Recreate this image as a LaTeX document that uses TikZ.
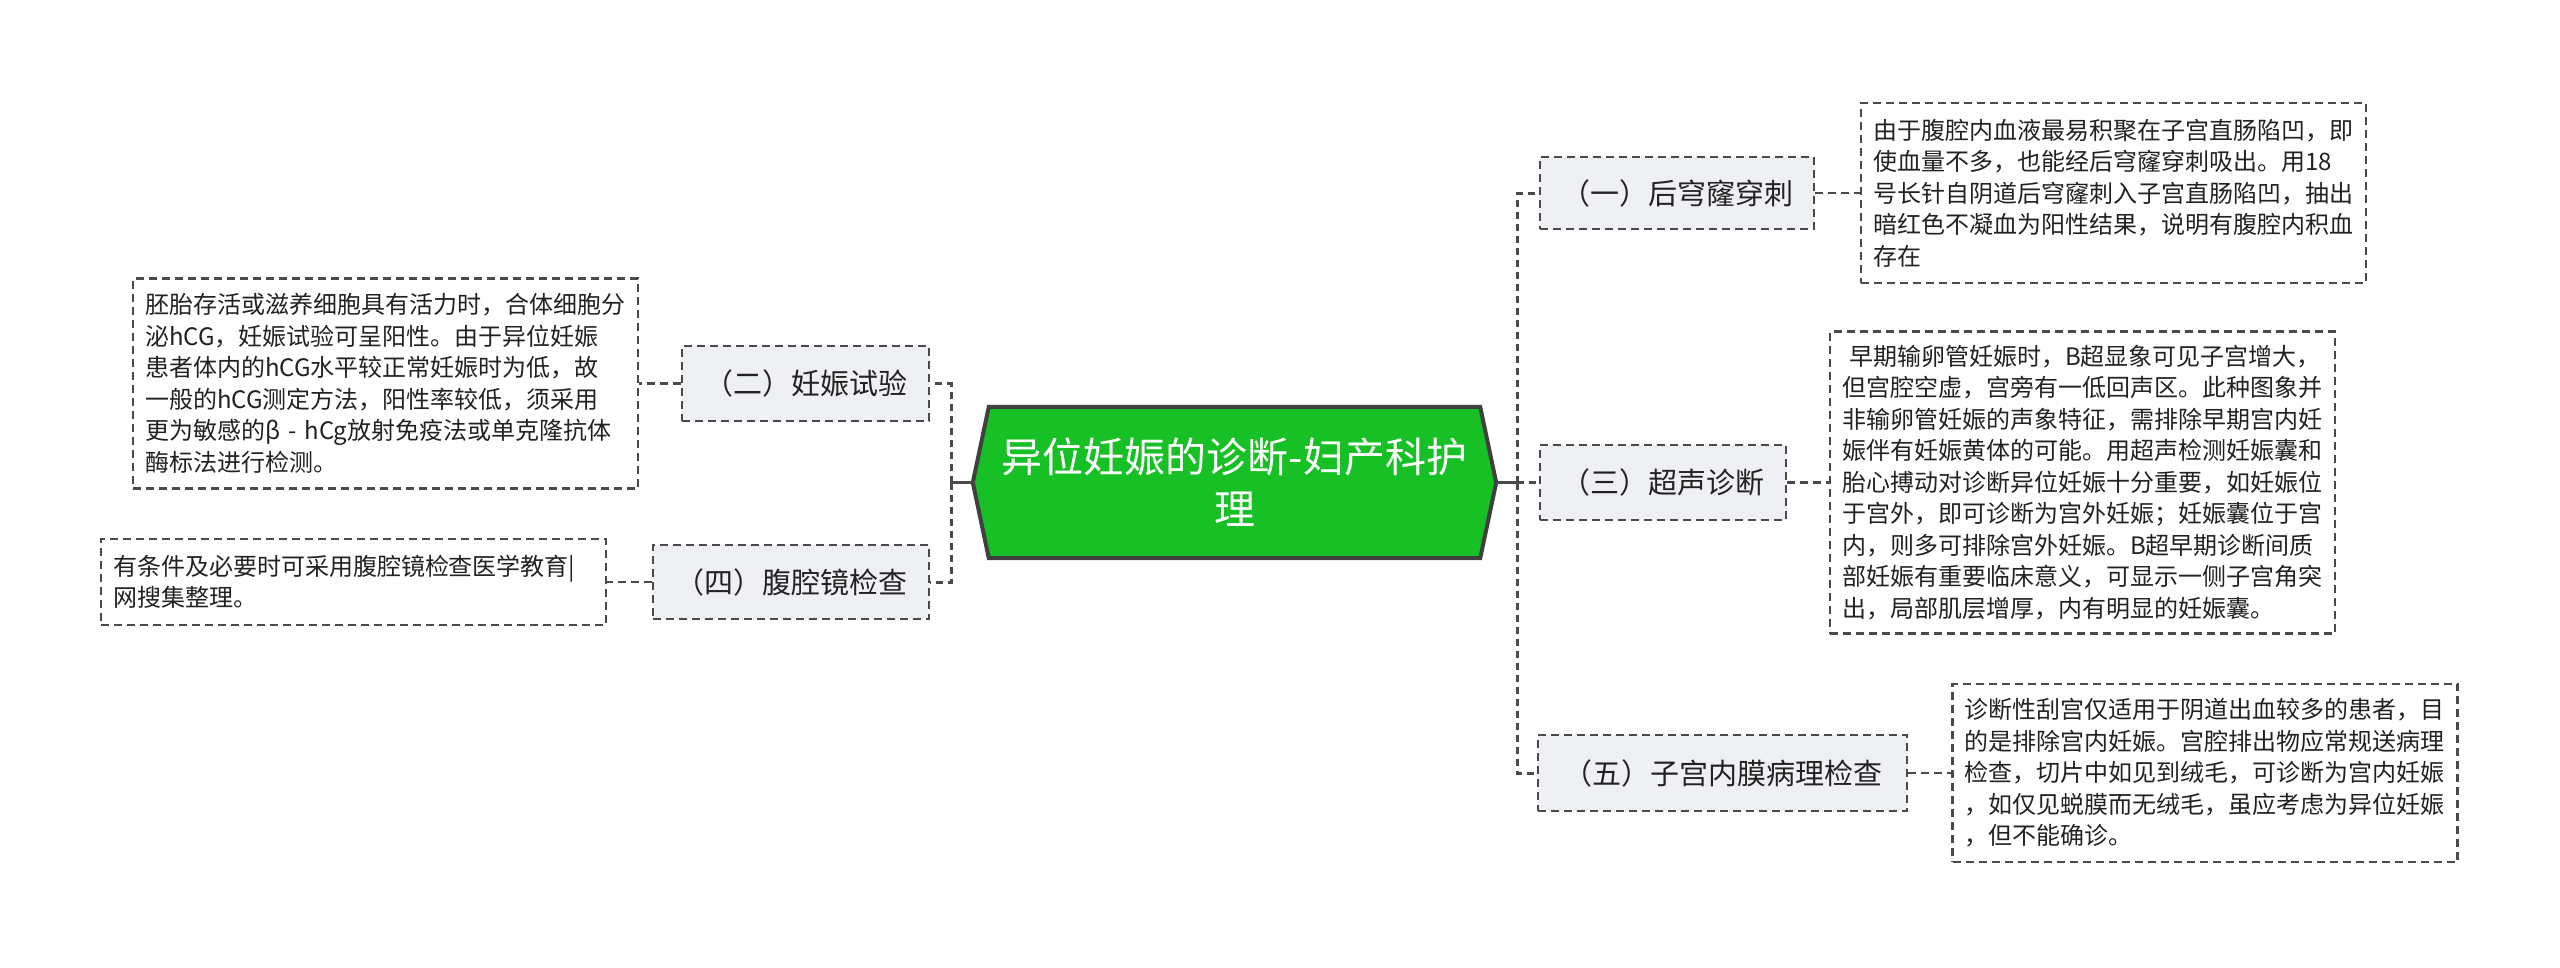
\documentclass[tikz,border=0pt]{standalone}
\usepackage{fontspec}
\setmainfont{Noto Sans CJK SC}
\usetikzlibrary{backgrounds}
\definecolor{hexgreen}{HTML}{17C125}
\definecolor{hexline}{HTML}{404040}
\definecolor{topicfill}{HTML}{EEF0F3}
\definecolor{lineg}{HTML}{4A4A4A}
\definecolor{txt}{HTML}{222222}
\begin{document}
\begin{tikzpicture}[x=1pt,y=-1pt,
  rootnode/.style={minimum width=523pt, minimum height=151pt, inner sep=0pt, align=center, text=white, font=\fontsize{41}{52}\selectfont},
  topic/.style={draw=lineg, fill=topicfill, line width=2.5pt, dash pattern=on 8pt off 5pt, font=\fontsize{29}{34}\selectfont, inner sep=0pt, text=txt},
  detail/.style={draw=lineg, fill=white, line width=2.5pt, dash pattern=on 8pt off 5pt, font=\fontsize{24}{31.5}\selectfont, text width=481pt, align=left, inner xsep=12pt, inner ysep=0pt, text=txt},
  conn/.style={draw=lineg, line width=2.5pt, dash pattern=on 8pt off 5pt},
  trunkdash/.style={draw=lineg, line width=3pt, dash pattern=on 7pt off 5pt},
  trunk/.style={draw=lineg, line width=3pt}]
\useasboundingbox (0,0) rectangle (2560,967);
\node[rootnode] (root) at (1234.5,482.5) {异位妊娠的诊断-妇产科护\\理};
\begin{scope}[on background layer]
\fill[white] (0,0) rectangle (2560,967);
\draw[hexline, fill=hexgreen, line width=4pt, line join=miter] (root.west) -- ([xshift=16pt]root.north west) -- ([xshift=-16pt]root.north east) -- (root.east) -- ([xshift=-16pt]root.south east) -- ([xshift=16pt]root.south west) -- cycle;
\end{scope}
% topics
\node[topic, minimum width=274pt, minimum height=72pt] (n1) at (1677,193) {（一）后穹窿穿刺};
\node[topic, minimum width=246pt, minimum height=75pt] (n3) at (1663,482.5) {（三）超声诊断};
\node[topic, minimum width=369pt, minimum height=76pt] (n5) at (1722.5,773) {（五）子宫内膜病理检查};
\node[topic, minimum width=247pt, minimum height=75pt] (n2) at (805.5,383.5) {（二）妊娠试验};
\node[topic, minimum width=276pt, minimum height=74pt] (n4) at (791,582) {（四）腹腔镜检查};
% details
\node[detail, minimum height=180pt] (d1) at (2113.5,193) {由于腹腔内血液最易积聚在子宫直肠陷凹，即\\使血量不多，也能经后穹窿穿刺吸出。用18\\号长针自阴道后穹窿刺入子宫直肠陷凹，抽出\\暗红色不凝血为阳性结果，说明有腹腔内积血\\存在};
\node[detail, minimum height=302pt] (d3) at (2082.5,482.5) {\hspace*{7pt}早期输卵管妊娠时，B超显象可见子宫增大，\\但宫腔空虚，宫旁有一低回声区。此种图象并\\非输卵管妊娠的声象特征，需排除早期宫内妊\\娠伴有妊娠黄体的可能。用超声检测妊娠囊和\\胎心搏动对诊断异位妊娠十分重要，如妊娠位\\于宫外，即可诊断为宫外妊娠；妊娠囊位于宫\\内，则多可排除宫外妊娠。B超早期诊断间质\\部妊娠有重要临床意义，可显示一侧子宫角突\\出，局部肌层增厚，内有明显的妊娠囊。};
\node[detail, minimum height=178pt] (d5) at (2205,773) {诊断性刮宫仅适用于阴道出血较多的患者，目\\的是排除宫内妊娠。宫腔排出物应常规送病理\\检查，切片中如见到绒毛，可诊断为宫内妊娠\\，如仅见蜕膜而无绒毛，虽应考虑为异位妊娠\\，但不能确诊。};
\node[detail, minimum height=210pt] (d2) at (385.5,383.5) {胚胎存活或滋养细胞具有活力时，合体细胞分\\泌hCG，妊娠试验可呈阳性。由于异位妊娠\\患者体内的hCG水平较正常妊娠时为低，故\\一般的hCG测定方法，阳性率较低，须采用\\更为敏感的β - hCg放射免疫法或单克隆抗体\\酶标法进行检测。};
\node[detail, minimum height=86pt] (d4) at (353.5,582) {有条件及必要时可采用腹腔镜检查医学教育|\\网搜集整理。};
% connectors
\coordinate (rt) at (1517,482.5);
\coordinate (lt) at (951,482.5);
\draw[trunk] (root.east) -- (rt);
\draw[trunk] (root.west) -- (lt);
\draw[trunkdash] (rt) |- (n1.west);
\draw[trunkdash] (rt) |- (n5.west);
\draw[trunkdash] (rt) -- (n3.west);
\draw[trunkdash] (lt) |- (n2.east);
\draw[trunkdash] (lt) |- (n4.east);
\draw[conn] (n1.east) -- (d1.west);
\draw[conn] (n3.east) -- (d3.west);
\draw[conn] (n5.east) -- (d5.west);
\draw[conn] (n2.west) -- (d2.east);
\draw[conn] (n4.west) -- (d4.east);
\end{tikzpicture}
\end{document}
